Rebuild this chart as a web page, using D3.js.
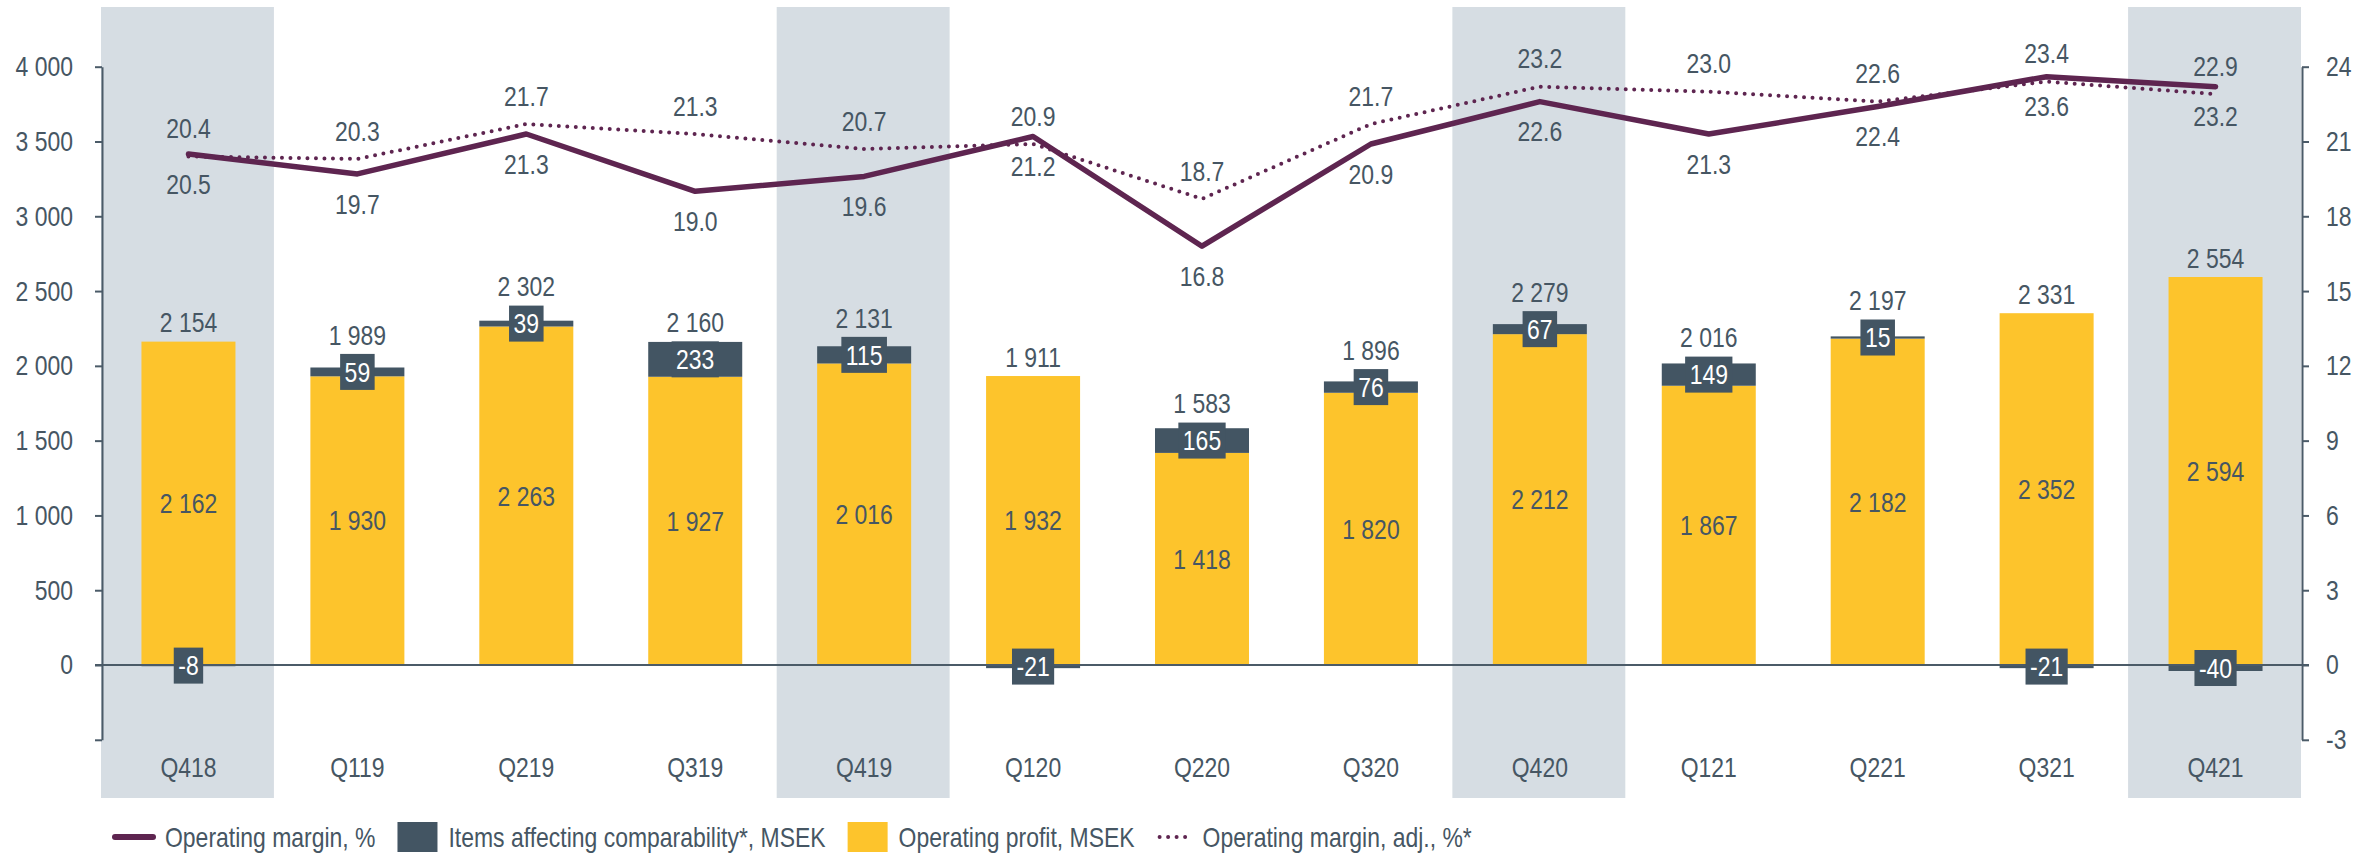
<!DOCTYPE html>
<html>
<head>
<meta charset="utf-8">
<script src="https://cdn.jsdelivr.net/npm/d3@7"></script>
<style>
  body { margin: 0; background: #fff; }
  svg text { font-family: "Liberation Sans", Arial, sans-serif; font-size: 28px; fill: #465663; }
</style>
</head>
<body>
<svg id="chart" width="2372" height="855"></svg>
<script>
var quarters = ["Q418","Q119","Q219","Q319","Q419","Q120","Q220","Q320","Q420","Q121","Q221","Q321","Q421"];
var operatingProfit = [2162, 1930, 2263, 1927, 2016, 1932, 1418, 1820, 2212, 1867, 2182, 2352, 2594];
var itemsAffecting = [-8, 59, 39, 233, 115, -21, 165, 76, 67, 149, 15, -21, -40];
var marginPct = [20.5, 19.7, 21.3, 19.0, 19.6, 21.2, 16.8, 20.9, 22.6, 21.3, 22.4, 23.6, 23.2];
var marginAdjPct = [20.4, 20.3, 21.7, 21.3, 20.7, 20.9, 18.7, 21.7, 23.2, 23.0, 22.6, 23.4, 22.9];
var fourthQuarters = ["Q418","Q419","Q420","Q421"];
var leftTicks = [-500, 0, 500, 1000, 1500, 2000, 2500, 3000, 3500, 4000];
var rightTicks = [-3, 0, 3, 6, 9, 12, 15, 18, 21, 24];

var YELLOW = "#fdc42c", SLATE = "#435563", BAND = "#d6dde3", PURPLE = "#5e2550", AXIS = "#4b5b68";
var NARROW = 0.82; // no Arial Narrow installed, so squeeze Liberation Sans

var svg = d3.select("#chart");
var loc = d3.formatLocale({decimal: ".", thousands: " ", grouping: [3], currency: ["", ""], minus: "-"});
var fmt = loc.format(",d");

var x = d3.scaleBand().domain(quarters).range([104, 2300]);
var y = d3.scaleLinear().domain([-500, 4000]).range([739.8, 66.7]);
var y2 = d3.scaleLinear().domain([-3, 24]).range([739.8, 66.7]);
var bw = x.bandwidth(), barW = 94;
var cx = function(q) { return x(q) + bw / 2; };

var data = quarters.map(function(q, i) {
  return {q: q, op: operatingProfit[i], items: itemsAffecting[i], total: operatingProfit[i] + itemsAffecting[i],
          m: marginPct[i], adj: marginAdjPct[i]};
});

// text helper: places a squeezed text at (tx, ty)
function addText(parent, tx, ty, str, anchor) {
  return parent.append("text")
    .attr("transform", "translate(" + tx + "," + ty + ") scale(" + NARROW + ",1)")
    .attr("dy", "0.35em")
    .attr("text-anchor", anchor || "middle")
    .text(str);
}

// grey bands behind the Q4 quarters
svg.append("g").selectAll("rect")
  .data(fourthQuarters)
  .enter().append("rect")
  .attr("x", function(d) { return x(d) - 3; })
  .attr("width", bw + 4)
  .attr("y", 7)
  .attr("height", 791)
  .attr("fill", BAND);

// yellow bars
svg.append("g").selectAll("rect")
  .data(data)
  .enter().append("rect")
  .attr("x", function(d) { return cx(d.q) - barW / 2; })
  .attr("width", barW)
  .attr("y", function(d) { return y(d.op); })
  .attr("height", function(d) { return y(0) - y(d.op); })
  .attr("fill", YELLOW);

// items affecting comparability, stacked on top (or below zero when negative)
function segTop(d) { return d.items >= 0 ? y(d.op + d.items) : y(0); }
function segBottom(d) { return d.items >= 0 ? y(d.op) : y(d.items); }
svg.append("g").selectAll("rect")
  .data(data)
  .enter().append("rect")
  .attr("x", function(d) { return cx(d.q) - barW / 2; })
  .attr("width", barW)
  .attr("y", segTop)
  .attr("height", function(d) { return Math.max(segBottom(d) - segTop(d), 1); })
  .attr("fill", SLATE);

// zero line
svg.append("line")
  .attr("x1", 95).attr("x2", 2309)
  .attr("y1", y(0)).attr("y2", y(0))
  .attr("stroke", AXIS).attr("stroke-width", 2);

// axes
var leftAxis = svg.append("g")
  .attr("transform", "translate(102,0)")
  .call(d3.axisLeft(y).tickValues(leftTicks).tickSize(7).tickSizeOuter(0).tickPadding(22)
    .tickFormat(function(d) { return d < 0 ? "" : fmt(d); }));
var rightAxis = svg.append("g")
  .attr("transform", "translate(2302,0)")
  .call(d3.axisRight(y2).tickValues(rightTicks).tickSize(7).tickSizeOuter(0).tickPadding(17)
    .tickFormat(loc.format("d")));
[leftAxis, rightAxis].forEach(function(a) {
  a.attr("font-family", null).attr("font-size", null);
  a.selectAll("path, line").attr("stroke", AXIS).attr("stroke-width", 2);
  a.selectAll("text").each(function() {
    var t = d3.select(this), tx = +t.attr("x");
    t.attr("x", 0).attr("transform", "translate(" + tx + ",0) scale(" + NARROW + ",1)");
  });
});

// margin lines
var line = d3.line()
  .x(function(d) { return cx(d.q); });
svg.append("path")
  .datum(data)
  .attr("d", line.y(function(d) { return y2(d.adj); }))
  .attr("fill", "none").attr("stroke", PURPLE)
  .attr("stroke-width", 4).attr("stroke-linecap", "round")
  .attr("stroke-dasharray", "0,8.5");
svg.append("path")
  .datum(data)
  .attr("d", line.y(function(d) { return y2(d.m); }))
  .attr("fill", "none").attr("stroke", PURPLE)
  .attr("stroke-width", 5.5).attr("stroke-linejoin", "round").attr("stroke-linecap", "round");

var labels = svg.append("g");

// line labels: adjusted above, reported below
data.forEach(function(d) {
  addText(labels, cx(d.q), y2(d.adj) - 28, d.adj.toFixed(1));
  addText(labels, cx(d.q), y2(d.m) + 30, d.m.toFixed(1));
});

// value labels inside yellow bars
data.forEach(function(d) {
  addText(labels, cx(d.q), (y(d.op) + y(0)) / 2, fmt(d.op));
});

// boxed labels for items affecting comparability
var boxH = 36;
var boxes = svg.append("g");
data.forEach(function(d) {
  var mid = (segTop(d) + segBottom(d)) / 2;
  var r = boxes.append("rect").attr("fill", SLATE);
  var t = addText(boxes, cx(d.q), mid, fmt(d.items)).style("fill", "#fff");
  var w = t.node().getComputedTextLength() * NARROW + 9;
  d.boxTop = mid - boxH / 2;
  r.attr("x", cx(d.q) - w / 2).attr("width", w).attr("y", d.boxTop).attr("height", boxH);
});

// totals above bars
data.forEach(function(d) {
  addText(labels, cx(d.q), Math.min(y(d.op), segTop(d), d.boxTop) - 19, fmt(d.total));
});

// category labels
quarters.forEach(function(q) {
  addText(labels, cx(q), 767, q);
});

// legend
var legendItems = [
  {name: "Operating margin, %", type: "line"},
  {name: "Items affecting comparability*, MSEK", type: "box", color: SLATE},
  {name: "Operating profit, MSEK", type: "box", color: YELLOW},
  {name: "Operating margin, adj., %*", type: "dots"}
];
var lg = svg.append("g").attr("transform", "translate(0,837)");
var lx = 115;
legendItems.forEach(function(it) {
  if (it.type == "line") {
    lg.append("line").attr("x1", lx).attr("x2", lx + 38).attr("y1", 0).attr("y2", 0)
      .attr("stroke", PURPLE).attr("stroke-width", 6).attr("stroke-linecap", "round");
    lx += 50;
  } else if (it.type == "box") {
    lg.append("rect").attr("x", lx).attr("y", -15).attr("width", 40).attr("height", 30).attr("fill", it.color);
    lx += 51;
  } else {
    lg.append("line").attr("x1", lx + 3).attr("x2", lx + 29).attr("y1", 0).attr("y2", 0)
      .attr("stroke", PURPLE).attr("stroke-width", 4).attr("stroke-linecap", "round")
      .attr("stroke-dasharray", "0,8.5");
    lx += 46;
  }
  var t = addText(lg, lx, 0, it.name, "start");
  lx += t.node().getComputedTextLength() * NARROW + 22;
});
</script>
</body>
</html>
